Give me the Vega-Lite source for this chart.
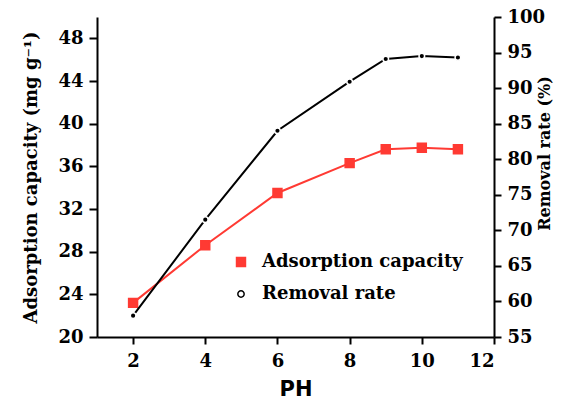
{
  "$schema": "https://vega.github.io/schema/vega-lite/v6.json",
  "width": 397,
  "height": 320,
  "autosize": {"type": "none"},
  "padding": {"left": 97, "top": 17, "right": 79, "bottom": 66},
  "background": "white",
  "config": {
    "view": {"stroke": null},
    "axis": {
      "grid": false,
      "domainColor": "black",
      "domainWidth": 2,
      "tickColor": "black",
      "tickWidth": 2,
      "tickSize": 8,
      "labelFont": "DejaVu Serif",
      "labelFontWeight": "bold",
      "labelFontSize": 18,
      "labelColor": "black",
      "labelPadding": 6,
      "titleFont": "DejaVu Serif",
      "titleFontWeight": "bold",
      "titleFontSize": 18,
      "titleColor": "black"
    },
    "legend": {
      "orient": "none",
      "legendX": 135,
      "legendY": 236,
      "title": null,
      "labelFont": "DejaVu Serif",
      "labelFontWeight": "bold",
      "labelFontSize": 18,
      "labelColor": "black",
      "labelLimit": 0,
      "labelOffset": 12,
      "rowPadding": 14,
      "symbolStrokeWidth": 1.5
    }
  },
  "data": {
    "values": [
      {"ph": 2, "series": "Adsorption capacity", "value": 23.2},
      {"ph": 4, "series": "Adsorption capacity", "value": 28.6},
      {"ph": 6, "series": "Adsorption capacity", "value": 33.5},
      {"ph": 8, "series": "Adsorption capacity", "value": 36.3},
      {"ph": 9, "series": "Adsorption capacity", "value": 37.6},
      {"ph": 10, "series": "Adsorption capacity", "value": 37.75},
      {"ph": 11, "series": "Adsorption capacity", "value": 37.6},
      {"ph": 2, "series": "Removal rate", "value": 58.0},
      {"ph": 4, "series": "Removal rate", "value": 71.5},
      {"ph": 6, "series": "Removal rate", "value": 84.0},
      {"ph": 8, "series": "Removal rate", "value": 90.9},
      {"ph": 9, "series": "Removal rate", "value": 94.1},
      {"ph": 10, "series": "Removal rate", "value": 94.5},
      {"ph": 11, "series": "Removal rate", "value": 94.3}
    ]
  },
  "layer": [
    {
      "transform": [{"filter": "datum.series === 'Adsorption capacity'"}],
      "encoding": {
        "x": {
          "field": "ph", "type": "quantitative",
          "scale": {"domain": [1, 12], "nice": false, "zero": false},
          "axis": {"values": [2, 4, 6, 8, 10, 12], "tickSize": 7, "labelPadding": 8, "title": "PH", "titleFont": "DejaVu Sans", "titleFontSize": 21, "titlePadding": 8}
        },
        "y": {
          "field": "value", "type": "quantitative",
          "scale": {"domain": [20, 50], "nice": false, "zero": false},
          "axis": {"orient": "left", "values": [20, 24, 28, 32, 36, 40, 44, 48], "title": "Adsorption capacity (mg g⁻¹)", "titlePadding": 17}
        }
      },
      "layer": [
        {"mark": {"type": "line", "color": "#ff3a33", "strokeWidth": 2}},
        {
          "mark": {"type": "point", "opacity": 1, "strokeWidth": 1.5},
          "encoding": {
            "shape": {"field": "series", "type": "nominal", "scale": {"domain": ["Adsorption capacity", "Removal rate"], "range": ["square", "circle"]}},
            "fill": {"field": "series", "type": "nominal", "scale": {"domain": ["Adsorption capacity", "Removal rate"], "range": ["#ff3a33", "white"]}},
            "stroke": {"field": "series", "type": "nominal", "scale": {"domain": ["Adsorption capacity", "Removal rate"], "range": ["#ff3a33", "black"]}},
            "size": {"field": "series", "type": "nominal", "scale": {"domain": ["Adsorption capacity", "Removal rate"], "range": [80, 40]}}
          }
        }
      ]
    },
    {
      "transform": [{"filter": "datum.series === 'Removal rate'"}],
      "encoding": {
        "x": {"field": "ph", "type": "quantitative"},
        "y": {
          "field": "value", "type": "quantitative",
          "scale": {"domain": [55, 100], "nice": false, "zero": false},
          "axis": {"orient": "right", "values": [55, 60, 65, 70, 75, 80, 85, 90, 95, 100], "tickSize": 7, "labelPadding": 6, "title": "Removal rate (%)", "titleFontSize": 16, "titleAngle": -90, "titleBaseline": "top", "titlePadding": -8, "titleY": 136}
        }
      },
      "layer": [
        {"mark": {"type": "line", "color": "black", "strokeWidth": 2}},
        {"mark": {"type": "point", "shape": "circle", "filled": true, "fill": "black", "stroke": "white", "strokeWidth": 1.5, "size": 32, "opacity": 1}}
      ]
    }
  ],
  "resolve": {"scale": {"y": "independent"}}
}
